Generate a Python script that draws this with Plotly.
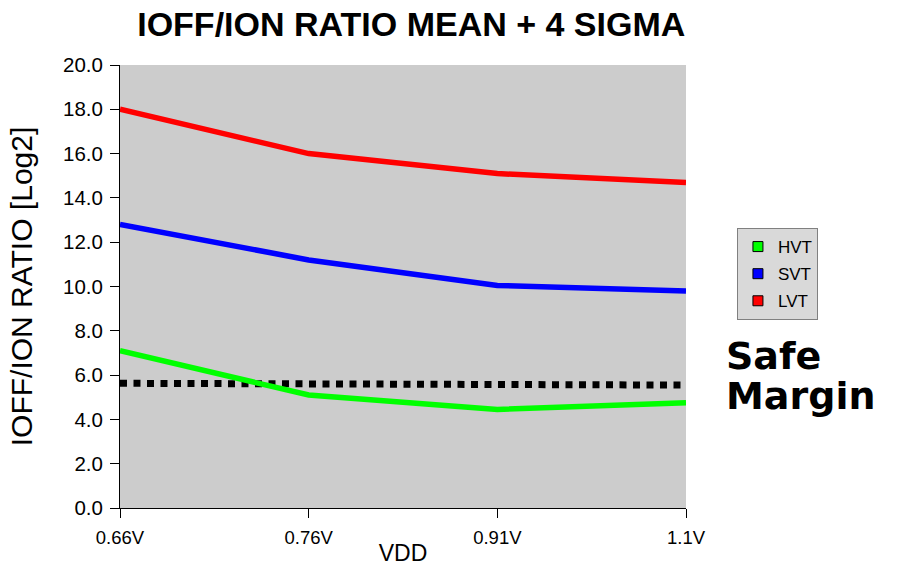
import plotly.graph_objects as go

vdd = ["0.66V", "0.76V", "0.91V", "1.1V"]
hvt = [7.1, 5.1, 4.45, 4.75]
svt = [12.8, 11.2, 10.05, 9.8]
lvt = [18.0, 16.0, 15.1, 14.7]
safe_margin = [5.63, 5.61, 5.58, 5.55]

series = [("HVT", hvt, "#00ff00"), ("SVT", svt, "#0000ff"), ("LVT", lvt, "#ff0000")]

FONT = "Liberation Sans, Arial, sans-serif"

fig = go.Figure()

# Safe margin threshold (dotted)
fig.add_trace(go.Scatter(
    x=vdd, y=safe_margin, mode="lines", showlegend=False,
    line=dict(color="black", width=7, dash="7px,6.5px"), hoverinfo="skip",
))

for name, vals, color in series:
    fig.add_trace(go.Scatter(
        x=vdd, y=vals, mode="lines", name=name, showlegend=False,
        line=dict(color=color, width=5.5),
    ))

# Legend entries drawn as square swatches
for name, vals, color in series:
    fig.add_trace(go.Scatter(
        x=[None], y=[None], mode="markers", name=name, legendgroup=name,
        marker=dict(symbol="square", size=10, color=color,
                    line=dict(color="black", width=1)),
    ))

label_font = dict(size=38, color="black", family="DejaVu Sans, sans-serif", weight="bold")
fig.add_annotation(
    text="Safe", xref="paper", yref="paper",
    x=1.067, y=(508 - 356) / 443, xanchor="left", yanchor="middle",
    showarrow=False, font=label_font,
)
fig.add_annotation(
    text="Margin", xref="paper", yref="paper",
    x=1.067, y=(508 - 396) / 443, xanchor="left", yanchor="middle",
    showarrow=False, font=label_font,
)

fig.update_layout(
    width=897, height=566,
    margin=dict(l=120, r=211, t=65, b=58),
    paper_bgcolor="white", plot_bgcolor="#cccccc",
    font=dict(family=FONT, color="black"),
    title=dict(text="<b>IOFF/ION RATIO MEAN + 4 SIGMA</b>", x=0.4585, xanchor="center",
               y=0.958, yanchor="middle", font=dict(size=34)),
    legend=dict(x=1.09, y=0.632, xanchor="left", yanchor="top",
                bgcolor="#d9d9d9", bordercolor="#808080", borderwidth=1,
                font=dict(size=17), itemwidth=30, tracegroupgap=2),
    xaxis=dict(
        type="category", range=[0, 3], showgrid=False, zeroline=False,
        showline=True, linecolor="black", linewidth=1, automargin=False,
        ticks="outside", ticklen=9, tickcolor="black",
        tickfont=dict(size=18.5), ticklabelstandoff=4,
        title=dict(text="VDD", font=dict(size=23), standoff=0),
    ),
    yaxis=dict(
        range=[0, 20], dtick=2, tickformat=".1f", showgrid=False, zeroline=False,
        showline=True, linecolor="black", linewidth=1, automargin=False,
        ticks="outside", ticklen=9, tickcolor="black",
        tickfont=dict(size=20.5), ticklabelstandoff=3,
        title=dict(text="IOFF/ION RATIO [Log2]", font=dict(size=30), standoff=21),
    ),
)

fig.write_html("out.html")
